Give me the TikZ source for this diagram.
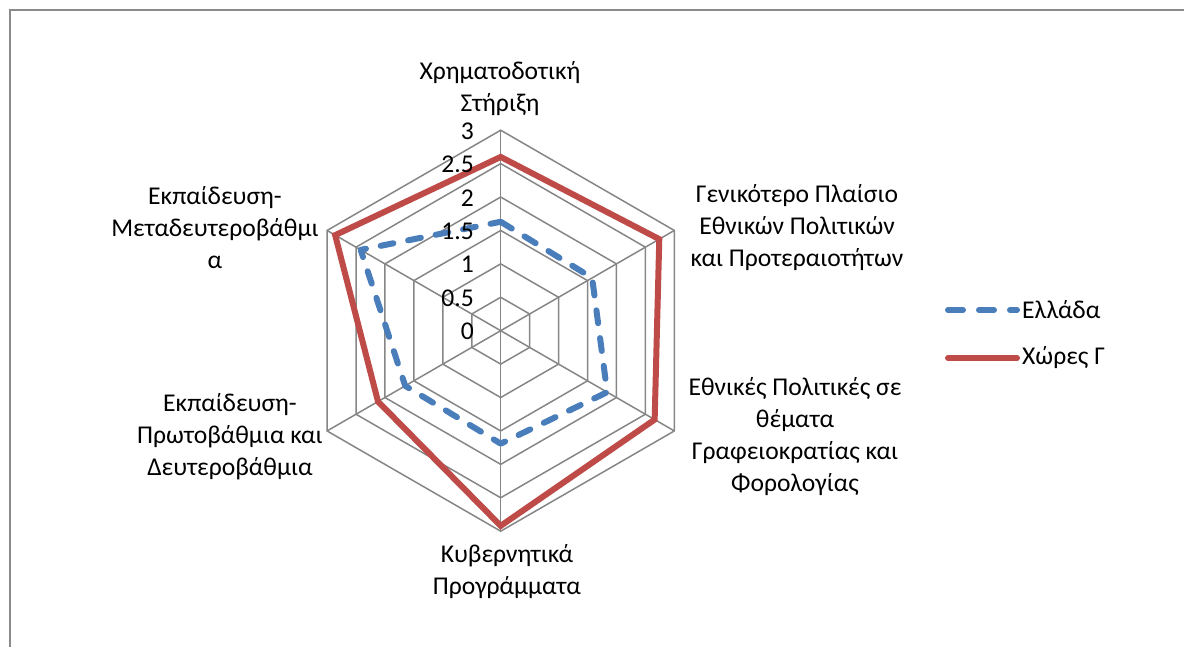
\documentclass[tikz,border=0pt]{standalone}
\usepackage{fontspec}
\setmainfont{Carlito}
\definecolor{gridgray}{HTML}{868686}
\definecolor{frame}{HTML}{8A8A8A}
\definecolor{serblue}{HTML}{4A7EBB}
\definecolor{serred}{HTML}{BE4B48}
\begin{document}
\begin{tikzpicture}[x=1pt,y=-1pt,
  lab/.style={align=center,font=\fontsize{25.6}{32}\selectfont,inner sep=0pt},
  tick/.style={anchor=east,font=\fontsize{25.6}{30}\selectfont,inner sep=0pt},
  grid/.style={draw=gridgray,line width=1.5pt},
  greece/.style={draw=serblue,line width=6pt,dash pattern=on 13pt off 15pt,line cap=round,line join=round},
  other/.style={draw=serred,line width=6pt,line join=miter}]
\useasboundingbox (0,0) rectangle (1184,647);
\begin{scope}
\clip (0,0) rectangle (1184,647);
\draw[frame,line width=2pt] (10,10) rectangle (1200,670);
\end{scope}
\def\cx{500.7}\def\cy{330.7}\def\s{66.83}
\coordinate (O) at (\cx,\cy);
% rings
\foreach \v in {0.5,1,...,3}{
  \draw[grid] ({\cx+\v*\s*cos(90)},{\cy-\v*\s*sin(90)})
    \foreach \k in {1,...,5}{ -- ({\cx+\v*\s*cos(90-60*\k)},{\cy-\v*\s*sin(90-60*\k)}) } -- cycle;
}
% spokes
\foreach \k in {0,...,5}{
  \coordinate (V\k) at ({\cx+3*\s*cos(90-60*\k)},{\cy-3*\s*sin(90-60*\k)});
  \draw[grid] (O) -- (V\k);
}
% data
\foreach \v [count=\k from 0] in {1.63,1.58,1.84,1.69,1.65,2.42}{
  \coordinate (g\k) at ({\cx+\v*\s*cos(90-60*\k)},{\cy-\v*\s*sin(90-60*\k)});
}
\foreach \v [count=\k from 0] in {2.6,2.74,2.66,2.92,2.12,2.86}{
  \coordinate (r\k) at ({\cx+\v*\s*cos(90-60*\k)},{\cy-\v*\s*sin(90-60*\k)});
}
\draw[other] (r0) -- (r1) -- (r2) -- (r3) -- (r4) -- (r5) -- cycle;
\draw[greece] (g0) -- (g1) -- (g2) -- (g3) -- (g4) -- (g5) -- cycle;
% ticks
\node[tick] (t0) at (474,331) {0};
\node[tick] (t1) at (474,298) {0.5};
\node[tick] (t2) at (474,264.5) {1};
\node[tick] (t3) at (474,231) {1.5};
\node[tick] (t4) at (474,198) {2};
\node[tick] (t5) at (474,164.5) {2.5};
\node[tick] (t6) at (474,131) {3};
% axis labels
\node[lab] (l0) at (500,89) {Χρηματοδοτική\\Στήριξη};
\node[lab] (l1) at (797,228) {Γενικότερο Πλαίσιο\\Εθνικών Πολιτικών\\και Προτεραιοτήτων};
\node[lab] (l2) at (795,437) {Εθνικές Πολιτικές σε\\θέματα\\Γραφειοκρατίας και\\Φορολογίας};
\node[lab] (l3) at (507,572) {Κυβερνητικά\\Προγράμματα};
\node[lab] (l4) at (230,437) {Εκπαίδευση-\\Πρωτοβάθμια και\\Δευτεροβάθμια};
\node[lab] (l5) at (215,228) {Εκπαίδευση-\\Μεταδευτεροβάθμι\\α};
% legend
\coordinate (la) at (948,310); \coordinate (lb) at (1017,310);
\coordinate (lc) at (948,358); \coordinate (ld) at (1017,358);
\draw[greece,dash pattern=on 15pt off 16pt] (la) -- (lb);
\draw[other,line cap=round] (lc) -- (ld);
\node[lab,anchor=west] (e1) at (1022,310) {Ελλάδα};
\node[lab,anchor=west] (e2) at (1022,358) {Χώρες Γ};
\end{tikzpicture}
\end{document}
